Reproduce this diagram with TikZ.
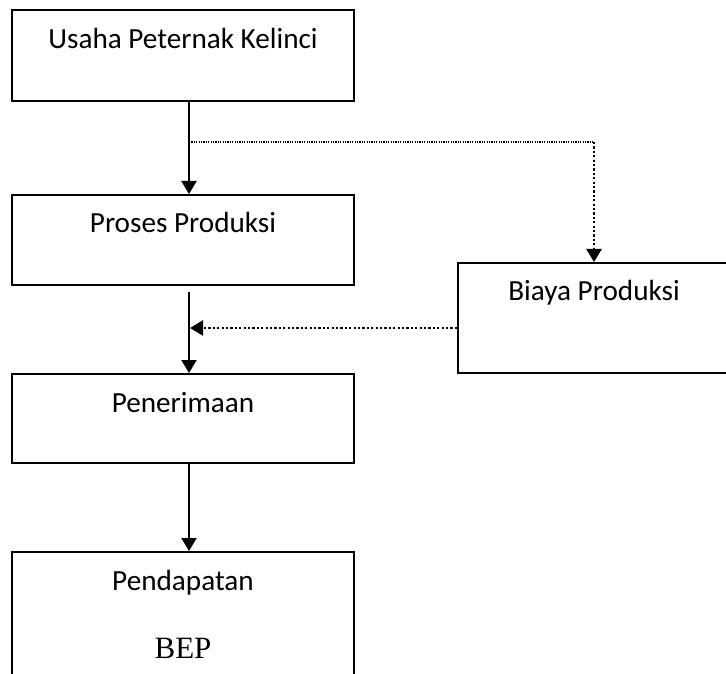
\documentclass[tikz,border=0pt]{standalone}
\usepackage{fontspec}
\setmainfont{Carlito}
\newfontfamily\bepfont{Liberation Serif}
\usetikzlibrary{arrows.meta}

\begin{document}
\begin{tikzpicture}[x=0.5pt, y=-0.5pt, line width=1pt, >={Triangle[length=6.5pt,width=7.5pt]},
        main/.style = {draw, rectangle, inner sep=0pt, minimum width=171pt, text height=19pt, text depth=26pt, font=\fontsize{14.6}{17}\selectfont},
        dots/.style = {line width=1.2pt, dash pattern=on 1.1pt off 1.1pt}]
        \useasboundingbox (0,0) rectangle (726,673);
        \clip (0,0) rectangle (726,673);
        \node[main, text height=19.5pt] at (183,55.5) (1) { Usaha Peternak Kelinci };
        \node[main] at (183,240) (2) { Proses Produksi };
        \node[main, text depth=25.5pt] at (183,418.5) (3) { Penerimaan };
        \node[main, minimum width=136pt, text height=18.5pt, text depth=36.5pt] at (594,318) (4) { Biaya Produksi };
        \node[main, text depth=50pt] at (183,621) (5) { Pendapatan };
        \node[anchor=base, font=\bepfont\fontsize{15.5}{18}\selectfont] at (183,658) (6) { BEP };
        \coordinate (s) at (189,142);
        \coordinate (c) at (s -| 4.north);
        \coordinate (j) at (190,328);
        \draw [->] ([xshift=3pt]1.south) to ([xshift=3pt]2.north);
        \draw [->] ([xshift=3pt,yshift=-3pt]2.south) to ([xshift=3pt]3.north);
        \draw [->] ([xshift=3pt]3.south) to ([xshift=3pt]5.north);
        \draw [line width=0.6pt, dash pattern=on 0.6pt off 0.6pt] (s) to (c);
        \draw [dots, ->] (c) to (4.north);
        \draw [dots, ->] ([yshift=-5pt]4.west) to (j);
    \end{tikzpicture}
\end{document}
